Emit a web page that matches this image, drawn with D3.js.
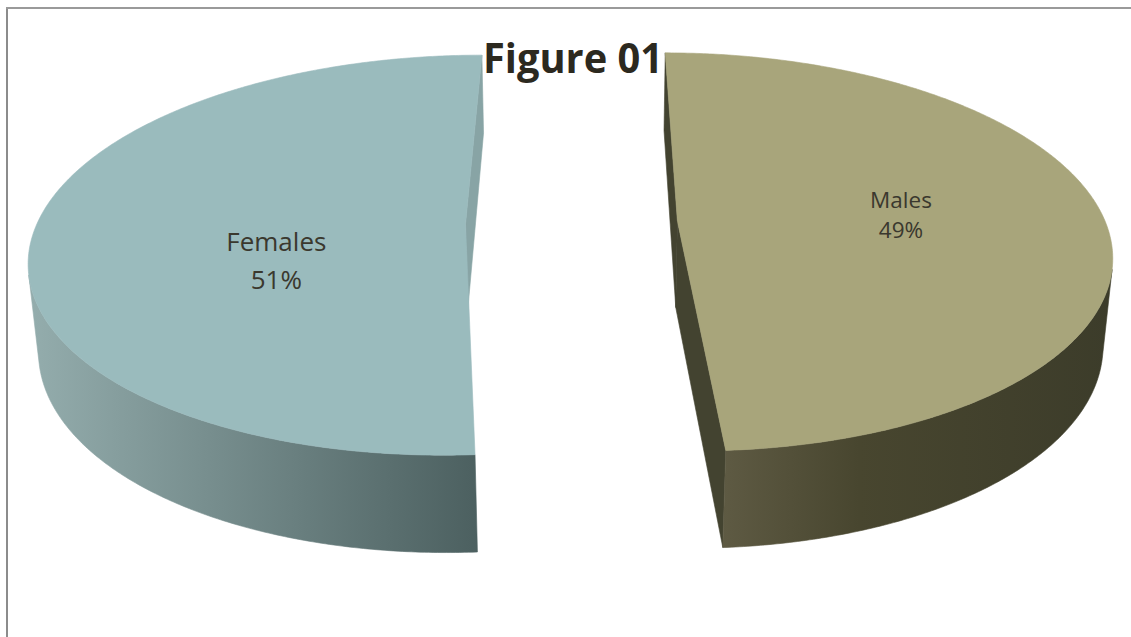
<!DOCTYPE html>
<html>
<head>
<meta charset="utf-8">
<script src="https://cdn.jsdelivr.net/npm/d3@7"></script>
<style>
  html, body { margin: 0; padding: 0; background: #ffffff; overflow: hidden; }
  svg { display: block; }
</style>
</head>
<body>
<script>
// ---- data ----
const categories = ["Males", "Females"];
const shares = [49, 51];
const chartTitle = "Figure 01";

// ---- styles ----
const topFill   = { Males: "#A8A57B", Females: "#9ABBBD" };
const cutFill   = { Males: "#434330", Females: "#88A4A5" };
const sideStops = {
  Males:   [["0%", "#5E5A43"], ["35%", "#48462F"], ["100%", "#3C3C2A"]],
  Females: [["0%", "#94ADAD"], ["100%", "#4C6060"]]
};
const labelFont = { Males: 22.5, Females: 26 };
const labelLead = { Males: 30, Females: 38 };
const labelShift = { Males: -10, Females: 24 };
const labelRadius = { Males: 0.525, Females: 0.44 };

const W = 1131, H = 637;

// 3D view: unit-radius pie seen from a camera raised by `phi`,
// sitting slightly left of the pie's centre (camX)
const view = {
  cx: 587, cy: 222.5, k: 2452, D: 5.727, camX: 0.036,
  phi: 27.05 * Math.PI / 180,
  thick: 0.2312, explode: 0.2475
};
const sinP = Math.sin(view.phi), cosP = Math.cos(view.phi);

function project(x, y, z) {
  const d = view.D - y * sinP - z * cosP;
  return [view.cx + view.k * (x - view.camX) / d, view.cy - view.k * (y * cosP - z * sinP) / d];
}

const svg = d3.select("body").append("svg")
  .attr("width", W).attr("height", H);

const defs = svg.append("defs");

svg.append("rect").attr("width", W).attr("height", H).attr("fill", "#ffffff");

// chart frame: left and top edges
svg.append("line").attr("x1", 7).attr("x2", 7).attr("y1", 7).attr("y2", H + 5)
  .attr("stroke", "#8C8C8C").attr("stroke-width", 2);
svg.append("line").attr("x1", 6).attr("x2", W + 5).attr("y1", 8).attr("y2", 8)
  .attr("stroke", "#9A9A9A").attr("stroke-width", 2);

const data = categories.map((c, i) => ({ name: c, value: shares[i] }));
const total = d3.sum(shares);
const arcs = d3.pie().sort(null).value(d => d.value)
  .startAngle(0).endAngle(2 * Math.PI)(data);

const line = d3.line();
const fmtPct = d3.format(".0%");
const STEPS = 360;

const pieG = svg.append("g");

arcs.forEach((a, idx) => {
  const name = a.data.name;
  const a0 = a.startAngle, a1 = a.endAngle, mid = (a0 + a1) / 2;
  const ex = view.explode * Math.sin(mid);
  const ez = -view.explode * Math.cos(mid);
  const h = -view.thick;

  const rim = (t, y) => project(ex + Math.sin(t), y, ez - Math.cos(t));
  const apex = y => project(ex, y, ez);
  const g = pieG.append("g").attr("class", "slice " + name);

  // camera direction from the apex (horizontal components)
  const vX = view.camX - ex, vZ = view.D * cosP - ez;

  // radial cut faces
  [[a0, -1], [a1, 1]].forEach(([ang, sgn]) => {
    const nx = sgn * Math.cos(ang), nz = sgn * Math.sin(ang);
    if (nx * vX + nz * vZ > 0) {
      const pts = [apex(0), rim(ang, 0), rim(ang, h), apex(h)];
      g.append("path").attr("d", line(pts) + "Z")
        .attr("fill", cutFill[name]).attr("stroke", cutFill[name]).attr("stroke-width", 0.6);
    }
  });

  // outer curved wall: only the part facing the camera
  const ts = d3.range(STEPS + 1).map(i => a0 + (a1 - a0) * i / STEPS);
  const facing = t => -1 + vX * Math.sin(t) - vZ * Math.cos(t) > 0;
  const runs = [];
  let cur = null;
  ts.forEach(t => {
    if (facing(t)) { if (!cur) { cur = []; runs.push(cur); } cur.push(t); }
    else cur = null;
  });
  runs.forEach((run, ri) => {
    const topPts = run.map(t => rim(t, 0));
    const botPts = run.slice().reverse().map(t => rim(t, h));
    const all = topPts.concat(botPts);
    const xs = all.map(p => p[0]);
    const gid = "side-" + idx + "-" + ri;
    const grad = defs.append("linearGradient").attr("id", gid)
      .attr("gradientUnits", "userSpaceOnUse")
      .attr("x1", d3.min(xs)).attr("x2", d3.max(xs))
      .attr("y1", 0).attr("y2", 0);
    sideStops[name].forEach(([o, c]) => grad.append("stop").attr("offset", o).attr("stop-color", c));
    g.append("path").attr("d", line(all) + "Z")
      .attr("fill", "url(#" + gid + ")")
      .attr("stroke", "url(#" + gid + ")").attr("stroke-width", 0.6);
  });

  // top face
  const topPts = [apex(0)].concat(ts.map(t => rim(t, 0)));
  g.append("path").attr("d", line(topPts) + "Z")
    .attr("fill", topFill[name]).attr("stroke", topFill[name]).attr("stroke-width", 0.6);

  // data label: category and share
  const r = labelRadius[name];
  const anc = project(ex + r * Math.sin(mid), 0, ez - r * Math.cos(mid));
  const txt = g.append("text")
    .attr("text-anchor", "middle")
    .attr("font-family", "'Open Sans', 'Noto Sans', sans-serif")
    .attr("font-size", labelFont[name])
    .attr("fill", "#3A382E");
  txt.append("tspan").attr("x", anc[0]).attr("y", anc[1] + labelShift[name]).text(name);
  txt.append("tspan").attr("x", anc[0]).attr("y", anc[1] + labelShift[name] + labelLead[name])
    .text(fmtPct(a.data.value / total));
});

// title
svg.append("text")
  .attr("x", 573).attr("y", 73)
  .attr("text-anchor", "middle")
  .attr("font-family", "'Open Sans', 'Noto Sans', sans-serif")
  .attr("font-weight", 700)
  .attr("font-size", 41)
  .attr("textLength", 180)
  .attr("lengthAdjust", "spacingAndGlyphs")
  .attr("fill", "#2C291F")
  .text(chartTitle);
</script>
</body>
</html>
